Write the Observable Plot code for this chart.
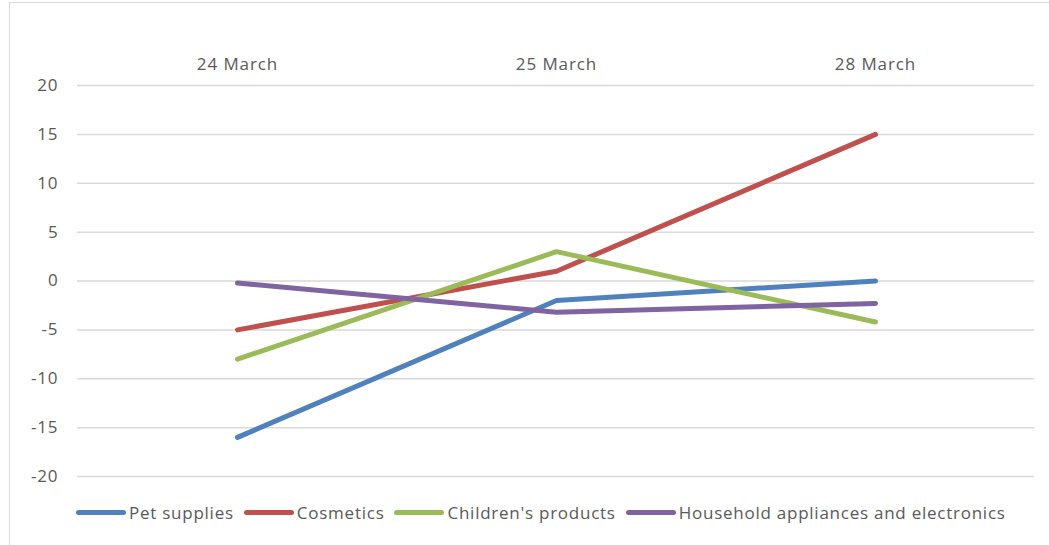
<!DOCTYPE html>
<html><head><meta charset="utf-8">
<script src="https://cdn.jsdelivr.net/npm/d3@7"></script>
<script src="https://cdn.jsdelivr.net/npm/@observablehq/plot@0.6"></script>
<style>
body{margin:0;background:#fff;font-family:"Open Sans",sans-serif;color:#595959;}
#frame{position:absolute;left:9px;top:2px;width:1100px;height:600px;border:1.5px solid #d9d9d9;box-sizing:border-box;}
#chart{position:absolute;left:0;top:0;}
#chart svg text{letter-spacing:0.9px;}
#legend{position:absolute;top:501px;left:76px;display:flex;align-items:center;font-size:17px;letter-spacing:0.75px;white-space:nowrap;}
.item{display:flex;align-items:center;margin-right:10px;}
.sw{display:inline-block;width:50px;height:5px;border-radius:3px;margin-right:3px;}
</style></head>
<body>
<div id="frame"></div>
<div id="chart"></div>
<div id="legend"></div>
<script>
const dates = ["24 March", "25 March", "28 March"];
const seriesNames = ["Pet supplies", "Cosmetics", "Children's products", "Household appliances and electronics"];
const petSupplies = [-16, -2, 0];
const cosmetics = [-5, 1, 15];
const childrensProducts = [-8, 3, -4.2];
const household = [-0.2, -3.2, -2.3];
const yTicks = [-20, -15, -10, -5, 0, 5, 10, 15, 20];
const colors = ["#4f81bd", "#c0504d", "#9bbb59", "#8064a2"];

const seriesValues = [petSupplies, cosmetics, childrensProducts, household];
const rows = [];
seriesNames.forEach((s, i) => dates.forEach((d, j) => rows.push({series: s, date: d, value: seriesValues[i][j]})));

const chart = Plot.plot({
  width: 1049,
  height: 495,
  marginLeft: 77,
  marginRight: 15,
  marginTop: 85,
  marginBottom: 19,
  style: {fontSize: "17px", fontFamily: "'Open Sans', sans-serif", color: "#595959", background: "transparent"},
  x: {type: "point", domain: dates, padding: 0.5, axis: "top", tickSize: 0, tickPadding: 16, label: null},
  y: {domain: [-20, 20], ticks: yTicks, tickSize: 0, tickPadding: 19, label: null, tickFormat: d => String(d)},
  color: {domain: seriesNames, range: colors},
  marks: [
    Plot.gridY(yTicks, {stroke: "#d9d9d9", strokeOpacity: 1, strokeWidth: 1.5}),
    Plot.line(rows, {x: "date", y: "value", z: "series", stroke: "series", strokeWidth: 5, strokeLinecap: "round", strokeLinejoin: "round"})
  ]
});
document.getElementById("chart").appendChild(chart);

const legend = document.getElementById("legend");
seriesNames.forEach((s, i) => {
  const it = document.createElement("div");
  it.className = "item";
  const sw = document.createElement("span");
  sw.className = "sw";
  sw.style.background = colors[i];
  const t = document.createElement("span");
  t.textContent = s;
  it.appendChild(sw); it.appendChild(t);
  legend.appendChild(it);
});
</script>
</body></html>
